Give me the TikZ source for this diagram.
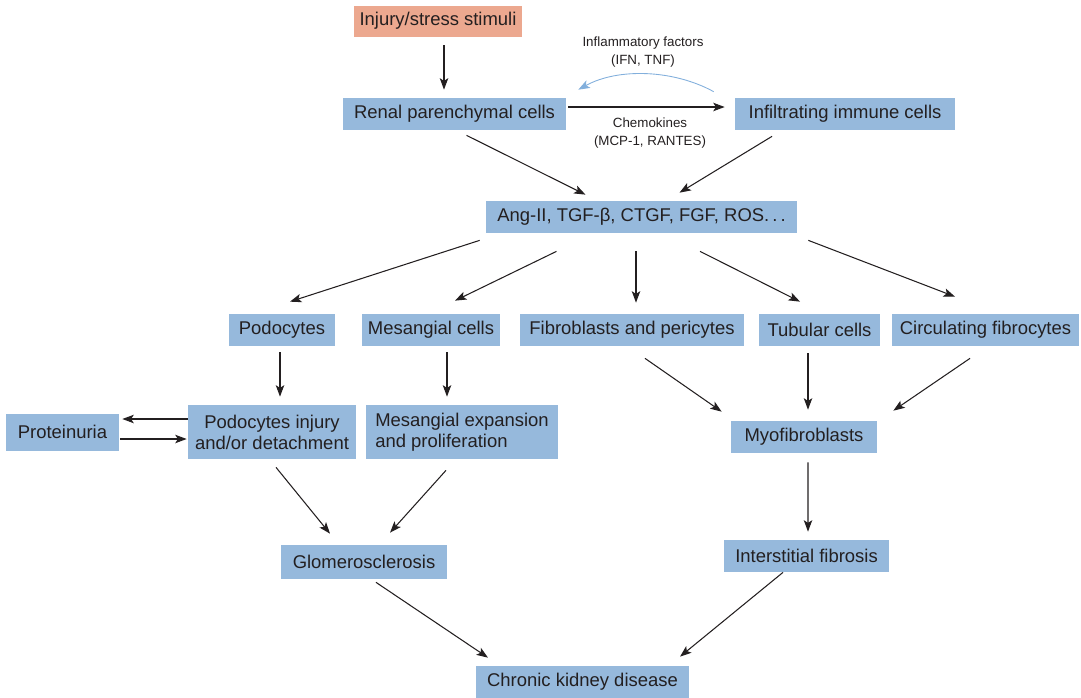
\documentclass[tikz,border=0pt]{standalone}
\usepackage{fontspec}
\setmainfont{Liberation Sans}
\usetikzlibrary{arrows.meta, calc}
\definecolor{kblue}{RGB}{150,185,220}
\definecolor{ksalmon}{RGB}{236,168,143}
\definecolor{kcurve}{RGB}{130,175,220}
\definecolor{ktext}{RGB}{35,31,32}

\begin{document}
\begin{tikzpicture}[x=0.02cm, y=-0.02cm,
  box/.style={fill=kblue, text=ktext, inner sep=0pt, minimum height=0.64cm,
    font=\fontsize{10.5}{12}\selectfont, align=center},
  arr/.style={-{Stealth[length=6.5pt,width=4.8pt,inset=1.5pt]}, line width=0.6pt, ktext},
  lbl/.style={font=\fontsize{7.6}{10}\selectfont, text=ktext, align=center}
]
  \useasboundingbox (0,0) rectangle (1081,697);

  % top
  \node[box, fill=ksalmon, minimum width=3.36cm, minimum height=0.62cm] (injury) at (438,21) {Injury/stress stimuli};
  \node[box, minimum width=4.46cm] (renal) at (454.5,114) {Renal parenchymal cells};
  \node[box, minimum width=4.4cm]  (infl)  at (845,114) {Infiltrating immune cells};
  \node[box, minimum width=6.22cm] (ang)   at (641.5,217) {Ang-II, TGF-β, CTGF, FGF, ROS.\,.\,.};
  \node[lbl] (inflam) at (643,52) {Inflammatory factors\\(IFN, TNF)};
  \node[lbl] (chemo)  at (650,133) {Chemokines\\(MCP-1, RANTES)};

  % cell types
  \node[box, minimum width=2.12cm] (pod)  at (282,330) {Podocytes};
  \node[box, minimum width=2.76cm] (mes)  at (431,330) {Mesangial cells};
  \node[box, minimum width=4.48cm] (fib)  at (632,330) {Fibroblasts and pericytes};
  \node[box, minimum width=2.42cm] (tub)  at (819.5,330) {Tubular cells};
  \node[box, minimum width=3.74cm] (circ) at (985.5,330) {Circulating fibrocytes};

  % responses
  \node[box, minimum width=2.26cm, minimum height=0.74cm] (prot) at (62.5,432) {Proteinuria};
  \node[box, minimum width=3.36cm, minimum height=1.08cm] (pinj) at (272,432) {Podocytes injury\\and/or detachment};
  \node[box, minimum width=3.84cm, minimum height=1.08cm, align=left] (mexp) at (462,432) {Mesangial expansion\\and proliferation};
  \node[box, minimum width=2.92cm] (myo)  at (804,437) {Myofibroblasts};
  \node[box, minimum width=3.32cm, minimum height=0.68cm] (glom) at (364,562) {Glomerosclerosis};
  \node[box, minimum width=3.3cm]  (inter) at (806.5,556) {Interstitial fibrosis};
  \node[box, minimum width=4.26cm] (ckd)  at (582.5,682) {Chronic kidney disease};

  % arrows
  \draw[arr] ($(injury.south)+(6,8.5)$) -- ($(renal.north)+(-10.5,-8)$);
  \draw[arr] ($(renal.east)+(2,-7)$) -- ($(infl.west)+(-10,-7)$);
  \draw[arr, kcurve, line width=0.5pt] ($(infl.north west)+(-21,-6)$)
    .. controls +(-40,-22) and +(40,-22) .. ($(renal.north east)+(12,-8)$);
  \draw[arr] ($(renal.south)+(12,5)$) -- ($(ang.north)+(-56,-6)$);
  \draw[arr] ($(infl.south)+(-73,6)$) -- ($(ang.north)+(38,-8)$);

  \draw[arr] ($(ang.south west)+(-6,7)$) -- ($(pod.north)+(8,-12)$);
  \draw[arr] ($(ang.south)+(-85,18)$) -- ($(mes.north)+(24,-13)$);
  \draw[arr] ($(ang.south)+(-5.5,18)$) -- ($(fib.north)+(4,-11)$);
  \draw[arr] ($(ang.south)+(58.5,18)$) -- ($(tub.north)+(-19.5,-12)$);
  \draw[arr] ($(ang.south east)+(11,7)$) -- ($(circ.north)+(-30.5,-17)$);

  \draw[arr] ($(pod.south)+(-2,6)$) -- ($(pinj.north)+(8,-8)$);
  \draw[arr] ($(mes.south)+(16,6)$) -- ($(mexp.north)+(-15,-8)$);
  \draw[arr] ($(pinj.west)+(0,-13)$) -- ($(prot.east)+(3,-13)$);
  \draw[arr] ($(prot.east)+(1,7)$) -- ($(pinj.west)+(-1,7)$);
  \draw[arr] ($(fib.south)+(13,12)$) -- ($(myo.north west)+(-9,-9)$);
  \draw[arr] ($(tub.south)+(-11.5,7)$) -- ($(myo.north)+(4,-11)$);
  \draw[arr] ($(circ.south)+(-15.5,12)$) -- ($(myo.north east)+(16,-10)$);

  \draw[arr] ($(pinj.south)+(4,8)$) -- ($(glom.north)+(-34,-11)$);
  \draw[arr] ($(mexp.south)+(-16,11)$) -- ($(glom.north)+(26,-12)$);
  \draw[arr] ($(myo.south)+(4,9)$) -- ($(inter.north)+(1.5,-8)$);
  \draw[arr] ($(glom.south)+(12,3)$) -- ($(ckd.north)+(-94.5,-8)$);
  \draw[arr] ($(inter.south)+(-23.5,0)$) -- ($(ckd.north)+(97.5,-9)$);
\end{tikzpicture}
\end{document}
